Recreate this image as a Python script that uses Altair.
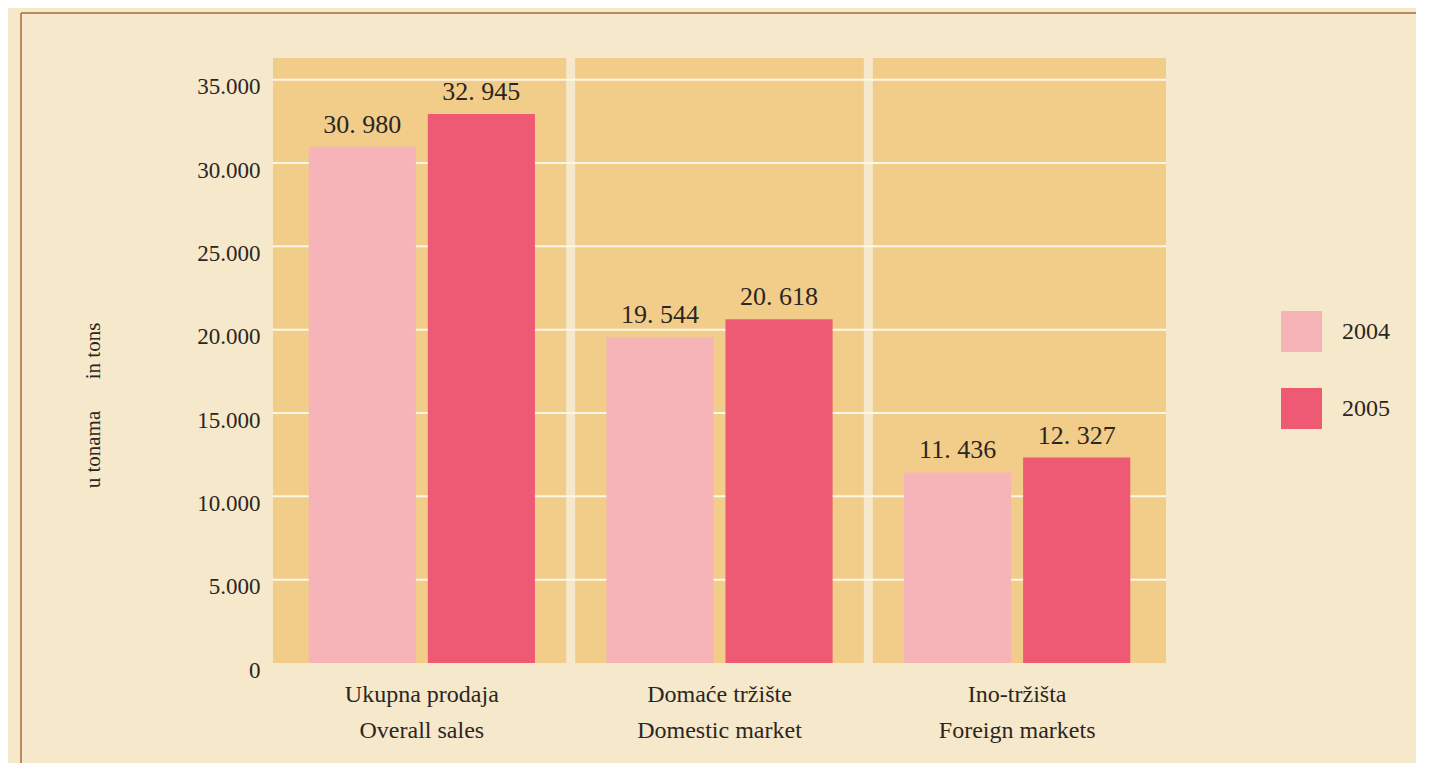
import altair as alt
import pandas as pd

categories = ["Ukupna prodaja|Overall sales", "Domaće tržište|Domestic market", "Ino-tržišta|Foreign markets"]
years = ["2004", "2005"]
values_2004 = [30980, 19544, 11436]
values_2005 = [32945, 20618, 12327]
y_ticks = [0, 5000, 10000, 15000, 20000, 25000, 30000, 35000]
y_title = "u tonama\u00a0\u00a0\u00a0\u00a0\u00a0\u00a0in tons"

rows = []
for c, v in zip(categories, values_2004):
    rows.append({"category": c, "year": "2004", "value": v})
for c, v in zip(categories, values_2005):
    rows.append({"category": c, "year": "2005", "value": v})
df = pd.DataFrame(rows)
grid_df = pd.DataFrame({"value": [t for t in y_ticks if t > 0]})
sep_df = pd.DataFrame({"category": categories[1:]})

W, H = 893, 605
BG = "#F6E8CB"
PLOT = "#F2CD8A"
TEXT = "#2B2622"
FONT = "Liberation Serif"

xscale = alt.Scale(domain=categories, paddingInner=0, paddingOuter=0)
yscale = alt.Scale(domain=[0, 36300], nice=False, zero=True)

x_axis = alt.Axis(labelExpr="split(datum.label, '|')", labelAngle=0, labelFontSize=24,
                  labelLineHeight=36, labelPadding=19, labelFont=FONT, labelColor=TEXT,
                  ticks=False, domain=False, grid=False)
y_axis = alt.Axis(values=y_ticks, labelExpr="replace(format(datum.value, ','), ',', '.')",
                  labelFontSize=23, labelFont=FONT, labelColor=TEXT, labelPadding=13,
                  labelOffset=7,
                  ticks=False, domain=False, grid=False,
                  titleFont=FONT, titleFontSize=21, titleFontWeight="normal", titleColor=TEXT,
                  titleAngle=-90, titleAlign="center", titleBaseline="bottom",
                  titleX=-170, titleY=347)

def xenc(**kw):
    return alt.X("category:N", sort=categories, scale=xscale, title=None, axis=x_axis, **kw)

def yenc():
    return alt.Y("value:Q", scale=yscale, title=y_title, axis=y_axis)

xoff = alt.XOffset("year:N", scale=alt.Scale(domain=years, paddingInner=0.1, paddingOuter=0.3))

separators = alt.Chart(sep_df).mark_rule(color=BG, strokeWidth=9).encode(
    x=xenc(bandPosition=0),
)

gridlines = alt.Chart(grid_df).mark_rule(color="#FFF6E6", strokeWidth=2).encode(
    y=yenc(),
    x=alt.value(0), x2=alt.value(W),
)

bars = alt.Chart(df).mark_bar().encode(
    x=xenc(),
    xOffset=xoff,
    y=yenc(),
    color=alt.Color("year:N", scale=alt.Scale(domain=years, range=["#F6B4B8", "#EE5A73"]),
                    legend=alt.Legend(title=None, orient="none", legendX=1008, legendY=253,
                                      symbolType="square", symbolSize=1681, symbolStrokeWidth=0,
                                      symbolOpacity=1, labelFontSize=24, labelFont=FONT,
                                      labelColor=TEXT, labelOffset=20, rowPadding=36, padding=0)),
)

labels = alt.Chart(df).transform_calculate(
    lbl="replace(format(datum.value, ','), ',', '. ')"
).mark_text(fontSize=26, font=FONT, color=TEXT, baseline="alphabetic", dy=-14).encode(
    x=xenc(),
    xOffset=xoff,
    y=yenc(),
    text="lbl:N",
)

border_top = alt.Chart(grid_df).mark_rule(color="#B98A5C", strokeWidth=2).encode(
    x=alt.value(-252), x2=alt.value(1300), y=alt.value(-45),
)
border_left = alt.Chart(grid_df).mark_rule(color="#B98A5C", strokeWidth=2).encode(
    x=alt.value(-252), y=alt.value(-45), y2=alt.value(900),
)

chart = alt.layer(separators, gridlines, bars, labels, border_top, border_left).properties(
    width=W, height=H,
    autosize=alt.AutoSizeParams(type="none"),
    padding={"left": 265, "top": 50, "right": 250, "bottom": 100},
    background=BG,
).configure_view(fill=PLOT, stroke=None, strokeWidth=0)

chart.save("out.html", embed_options={"renderer": "svg", "actions": False})
